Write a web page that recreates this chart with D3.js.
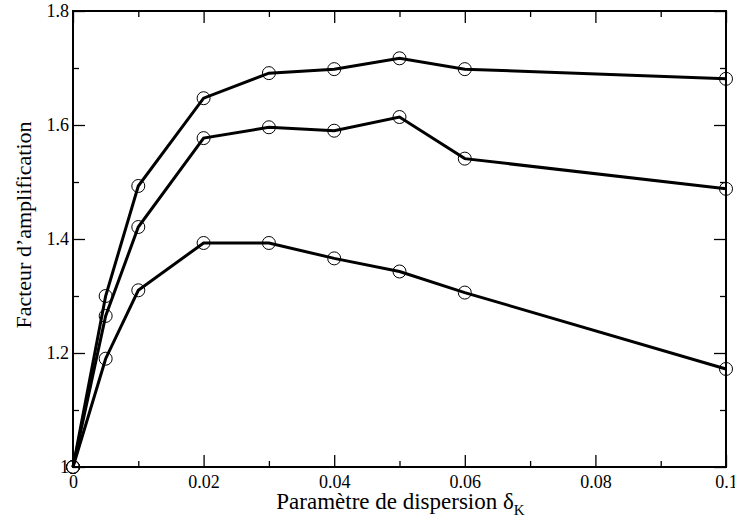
<!DOCTYPE html>
<html>
<head>
<meta charset="utf-8">
<script src="https://cdn.jsdelivr.net/npm/d3@7"></script>
<style>
  body { margin: 0; background: #fff; }
  text { font-family: "Liberation Serif", "Times New Roman", serif; fill: #000; }
</style>
</head>
<body>
<script>
// x values (dispersion parameter)
var deltaK = [0, 0.005, 0.01, 0.02, 0.03, 0.04, 0.05, 0.06, 0.1];

// amplification factor, one array per curve
var curveTop = [1, 1.300, 1.493, 1.647, 1.691, 1.698, 1.717, 1.698, 1.681];
var curveMid = [1, 1.265, 1.421, 1.577, 1.596, 1.590, 1.614, 1.541, 1.488];
var curveLow = [1, 1.190, 1.310, 1.393, 1.393, 1.366, 1.343, 1.306, 1.172];

var xTicks = [0, 0.02, 0.04, 0.06, 0.08, 0.1];
var xTickLabels = ["0", "0.02", "0.04", "0.06", "0.08", "0.1"];
var yTicks = [1, 1.2, 1.4, 1.6, 1.8];
var yTickLabels = ["1", "1.2", "1.4", "1.6", "1.8"];

var width = 735, height = 529;
var margin = {left: 73, top: 11, right: 9, bottom: 62};
var serif = '"Liberation Serif", "Times New Roman", serif';

var svg = d3.select("body").append("svg")
  .attr("width", width)
  .attr("height", height);

var x = d3.scaleLinear().domain([0, 0.1]).range([margin.left, width - margin.right]);
var y = d3.scaleLinear().domain([1, 1.8]).range([height - margin.bottom, margin.top]);

var x0 = x.range()[0], x1 = x.range()[1];
var y0 = y.range()[0], y1 = y.range()[1];

// minor ticks
var xMinor = d3.range(0.01, 0.1, 0.02);
var yMinor = d3.range(1.1, 1.8, 0.2);

var axes = svg.append("g");

function clean(g) {
  g.select(".domain").remove();
  g.attr("font-family", serif).attr("font-size", null);
  g.selectAll("text").style("font-family", serif).style("font-size", "18px");
}

// bottom axis (ticks pointing inward)
axes.append("g")
  .attr("transform", "translate(0," + y0 + ")")
  .call(d3.axisBottom(x).tickValues(xTicks).tickSizeInner(-12).tickSizeOuter(0)
    .tickFormat(function(d, i) { return xTickLabels[i]; }))
  .call(clean)
  .call(function(g) {
    g.selectAll("text").attr("y", 8).attr("dy", "0.71em");
  });
axes.append("g")
  .attr("transform", "translate(0," + y0 + ")")
  .call(d3.axisBottom(x).tickValues(xMinor).tickSizeInner(-6).tickSizeOuter(0).tickFormat(""))
  .call(clean);

// top mirrored ticks
axes.append("g")
  .attr("transform", "translate(0," + y1 + ")")
  .call(d3.axisTop(x).tickValues(xTicks).tickSizeInner(-12).tickSizeOuter(0).tickFormat(""))
  .call(clean);
axes.append("g")
  .attr("transform", "translate(0," + y1 + ")")
  .call(d3.axisTop(x).tickValues(xMinor).tickSizeInner(-6).tickSizeOuter(0).tickFormat(""))
  .call(clean);

// left axis
axes.append("g")
  .attr("transform", "translate(" + x0 + ",0)")
  .call(d3.axisLeft(y).tickValues(yTicks).tickSizeInner(-12).tickSizeOuter(0)
    .tickFormat(function(d, i) { return yTickLabels[i]; }))
  .call(clean)
  .call(function(g) {
    g.selectAll("text").attr("x", -4);
  });
axes.append("g")
  .attr("transform", "translate(" + x0 + ",0)")
  .call(d3.axisLeft(y).tickValues(yMinor).tickSizeInner(-6).tickSizeOuter(0).tickFormat(""))
  .call(clean);

// right mirrored ticks
axes.append("g")
  .attr("transform", "translate(" + x1 + ",0)")
  .call(d3.axisRight(y).tickValues(yTicks).tickSizeInner(-12).tickSizeOuter(0).tickFormat(""))
  .call(clean);
axes.append("g")
  .attr("transform", "translate(" + x1 + ",0)")
  .call(d3.axisRight(y).tickValues(yMinor).tickSizeInner(-6).tickSizeOuter(0).tickFormat(""))
  .call(clean);

axes.selectAll(".tick line").attr("stroke", "#000").attr("stroke-width", 1.3);

// frame
svg.append("rect")
  .attr("x", x0).attr("y", y1)
  .attr("width", x1 - x0).attr("height", y0 - y1)
  .attr("fill", "none").attr("stroke", "#000").attr("stroke-width", 2);

// curves
var curves = [curveTop, curveMid, curveLow];
var line = d3.line()
  .x(function(d, i) { return x(deltaK[i]); })
  .y(function(d) { return y(d); });

curves.forEach(function(c) {
  svg.append("path")
    .datum(c)
    .attr("d", line)
    .attr("fill", "none")
    .attr("stroke", "#000")
    .attr("stroke-width", 3)
    .attr("stroke-linejoin", "miter");

  svg.append("g").selectAll("circle")
    .data(c)
    .enter()
    .append("circle")
    .attr("cx", function(d, i) { return x(deltaK[i]); })
    .attr("cy", function(d) { return y(d); })
    .attr("r", 6.5)
    .attr("fill", "none")
    .attr("stroke", "#000")
    .attr("stroke-width", 1);
});

// axis titles
var xt = svg.append("text")
  .attr("x", (x0 + x1) / 2 + 1)
  .attr("y", 509)
  .attr("text-anchor", "middle")
  .style("font-family", serif)
  .style("font-size", "23px");
xt.append("tspan").text("Paramètre de dispersion δ");
xt.append("tspan").attr("dy", 6).style("font-size", "15px").text("K");

svg.append("text")
  .attr("transform", "translate(31,225) rotate(-90)")
  .attr("text-anchor", "middle")
  .style("font-family", serif)
  .style("font-size", "22px")
  .text("Facteur d’amplification");
</script>
</body>
</html>
